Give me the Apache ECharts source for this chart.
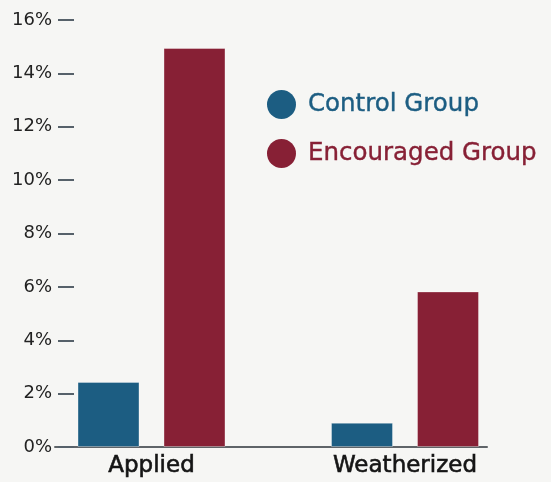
<!DOCTYPE html>
<html>
<head>
<meta charset="utf-8">
<script src="https://cdn.jsdelivr.net/npm/echarts@6/dist/echarts.min.js"></script>
<style>
html,body{margin:0;padding:0;background:#f6f6f4;}
#chart{width:551px;height:482px;}
</style>
</head>
<body>
<div id="chart"></div>
<script>
const categories = ['Applied', 'Weatherized'];
const seriesNames = ['Control Group', 'Encouraged Group'];
const controlValues = [2.44, 0.91];
const encouragedValues = [14.95, 5.83];
const yTicks = [0, 2, 4, 6, 8, 10, 12, 14, 16];

const CONTROL = '#1c5d82';
const ENCOURAGED = '#872035';
const FONT = '"DejaVu Sans", "Noto Sans", sans-serif';

const chart = echarts.init(document.getElementById('chart'), null, {renderer: 'canvas'});
chart.setOption({
  backgroundColor: '#f6f6f4',
  animation: false,
  legend: {
    orient: 'vertical',
    left: 262,
    top: 85,
    itemWidth: 29,
    itemHeight: 29,
    itemGap: 20,
    icon: 'circle',
    itemStyle: {borderWidth: 0},
    data: [
      {name: seriesNames[0], textStyle: {color: CONTROL, textBorderColor: CONTROL}},
      {name: seriesNames[1], textStyle: {color: ENCOURAGED, textBorderColor: ENCOURAGED}}
    ],
    textStyle: {fontFamily: FONT, fontSize: 24.5, padding: [0, 0, 0, 7], textBorderWidth: 0.4}
  },
  grid: [
    {left: 24.75, width: 507, top: 20, bottom: 35},
    {left: 55, right: 64, top: 20, bottom: 35}
  ],
  xAxis: [
    {
      type: 'category', gridIndex: 0, data: categories,
      axisLine: {show: false}, axisTick: {show: false},
      axisLabel: {fontFamily: FONT, fontSize: 23, color: '#151515', margin: 8,
        textBorderColor: '#151515', textBorderWidth: 0.6}
    },
    {
      type: 'value', gridIndex: 1, min: 0, max: 1,
      axisLine: {show: true, lineStyle: {color: '#5f6468', width: 2}},
      axisTick: {show: false}, axisLabel: {show: false}, splitLine: {show: false}
    }
  ],
  yAxis: [
    {type: 'value', gridIndex: 0, min: 0, max: 16, interval: 2, show: false},
    {
      type: 'value', gridIndex: 1, min: 0, max: 16, interval: 2,
      offset: -3,
      axisLine: {show: false},
      axisTick: {show: true, inside: true, length: 16, lineStyle: {color: '#56616a', width: 2}},
      splitLine: {show: false},
      axisLabel: {fontFamily: FONT, fontSize: 18, color: '#222', margin: 6,
        formatter: v => yTicks.includes(v) ? v + '%' : ''}
    }
  ],
  series: [
    {
      name: seriesNames[0], type: 'bar', xAxisIndex: 0, yAxisIndex: 0,
      data: controlValues, barWidth: 62, barGap: '38.7%',
      itemStyle: {color: CONTROL, borderColor: 'rgba(255,255,255,0.35)', borderWidth: 1}
    },
    {
      name: seriesNames[1], type: 'bar', xAxisIndex: 0, yAxisIndex: 0,
      data: encouragedValues, barWidth: 62, barGap: '38.7%',
      itemStyle: {color: ENCOURAGED, borderColor: 'rgba(255,255,255,0.35)', borderWidth: 1}
    }
  ]
});
</script>
</body>
</html>
